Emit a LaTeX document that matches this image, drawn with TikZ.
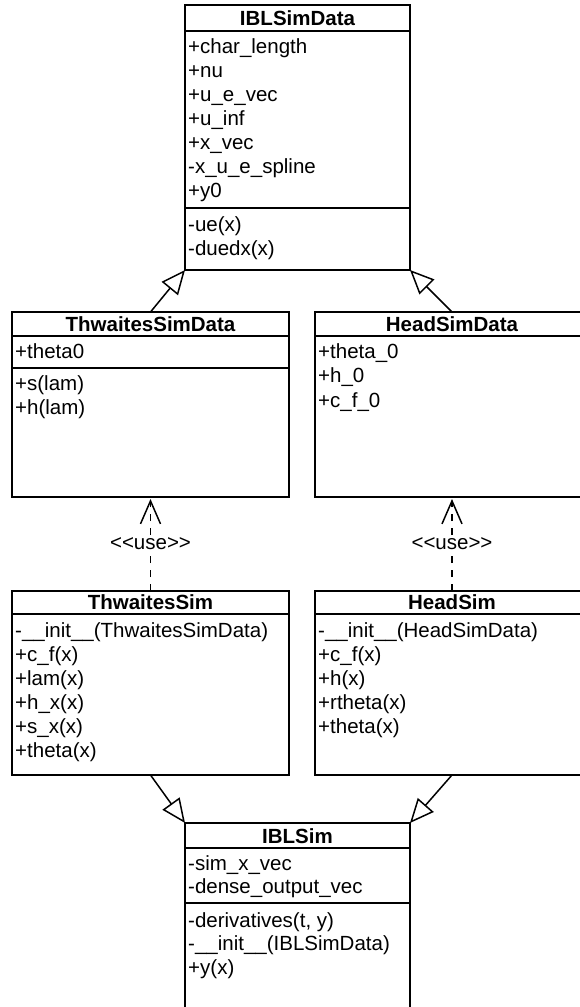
\documentclass[tikz,border=0pt]{standalone}
\usepackage{fontspec}
\setmainfont{Liberation Sans}
\usetikzlibrary{arrows.meta}
\tikzset{
  umlbox/.style={draw, line width=1.5pt, fill=white, inner sep=0pt, outer sep=0pt, anchor=north west},
  sepline/.style={line width=1.5pt},
  umltitle/.style={anchor=base, inner sep=0pt, font=\fontsize{20.5}{24}\selectfont\bfseries},
  member/.style={anchor=base west, inner sep=0pt, font=\fontsize{20.5}{24}\selectfont},
  inherit/.style={draw, line width=1.5pt, -{Triangle[open, length=24pt, width=21pt]}},
  dep/.style={draw, line width=1.5pt, dash pattern=on 7pt off 7pt, shorten >=2pt, -{Straight Barb[length=23pt, width=20pt]}},
  uselbl/.style={fill=white, inner sep=2pt, font=\fontsize{20.5}{24}\selectfont},
}
\newcommand{\umlrows}[5]{%
  \foreach \txt [count=\k from 0] in {#5} {
    \node[member] (#1-\k) at ({#2},{#3+#4*\k}) {\txt};
  }}
\begin{document}
\begin{tikzpicture}[x=1pt, y=-1pt]
\clip (0,0) rectangle (580,1007);

% ---------- IBLSimData
\node[umlbox, minimum width=225pt, minimum height=265pt] (ibd) at (185,5) {};
\draw[sepline] (185,31) -- (410,31);
\draw[sepline] (185,208) -- (410,208);
\node[umltitle] (ibd-t) at (297.5,25) {IBLSimData};
\umlrows{ibda}{188}{53}{24}{+char\_length,+nu,+u\_e\_vec,+u\_inf,+x\_vec,-x\_u\_e\_spline,+y0}
\umlrows{ibdm}{188}{231}{24}{-ue(x),-duedx(x)}

% ---------- ThwaitesSimData
\node[umlbox, minimum width=277pt, minimum height=185pt] (tsd) at (12,312) {};
\draw[sepline] (12,336) -- (289,336);
\draw[sepline] (12,368) -- (289,368);
\node[umltitle] (tsd-t) at (150.5,331) {ThwaitesSimData};
\umlrows{tsda}{15}{358}{24}{+theta0}
\umlrows{tsdm}{15}{390}{24}{+s(lam),+h(lam)}

% ---------- HeadSimData
\node[umlbox, minimum width=274pt, minimum height=185pt] (hsd) at (315,312) {};
\draw[sepline] (315,336) -- (589,336);
\node[umltitle] (hsd-t) at (452,331) {HeadSimData};
\umlrows{hsda}{318}{358}{24.5}{+theta\_0,+h\_0,+c\_f\_0}

% ---------- ThwaitesSim
\node[umlbox, minimum width=277pt, minimum height=184pt] (tsim) at (12,591) {};
\draw[sepline] (12,614) -- (289,614);
\node[umltitle] (tsim-t) at (150.5,609.5) {ThwaitesSim};
\umlrows{tsimm}{15}{637}{24}{-\_\_init\_\_(ThwaitesSimData),+c\_f(x),+lam(x),+h\_x(x),+s\_x(x),+theta(x)}

% ---------- HeadSim
\node[umlbox, minimum width=274pt, minimum height=184pt] (hsim) at (315,591) {};
\draw[sepline] (315,614) -- (589,614);
\node[umltitle] (hsim-t) at (452,609.5) {HeadSim};
\umlrows{hsimm}{318}{637}{24}{-\_\_init\_\_(HeadSimData),+c\_f(x),+h(x),+rtheta(x),+theta(x)}

% ---------- IBLSim
\node[umlbox, minimum width=225pt, minimum height=200pt] (ibs) at (185,823) {};
\draw[sepline] (185,848) -- (410,848);
\draw[sepline] (185,903) -- (410,903);
\node[umltitle] (ibs-t) at (297.5,843) {IBLSim};
\umlrows{ibsa}{188}{870}{23.5}{-sim\_x\_vec,-dense\_output\_vec}
\umlrows{ibsm}{188}{927}{23.5}{{-derivatives(t, y)},-\_\_init\_\_(IBLSimData),+y(x)}

% ---------- connectors
\draw[inherit] (tsd.north) -- (ibd.south west);
\draw[inherit] (hsd.north) -- (ibd.south east);
\draw[inherit] (tsim.south) -- (ibs.north west);
\draw[inherit] (hsim.south) -- (ibs.north east);

\draw[dep] (tsim.north) -- node[uselbl] (use1) {\mbox{<}\mbox{<}use\mbox{>}\mbox{>}} (tsd.south);
\draw[dep] (hsim.north) -- node[uselbl] (use2) {\mbox{<}\mbox{<}use\mbox{>}\mbox{>}} (hsd.south);
\end{tikzpicture}
\end{document}
